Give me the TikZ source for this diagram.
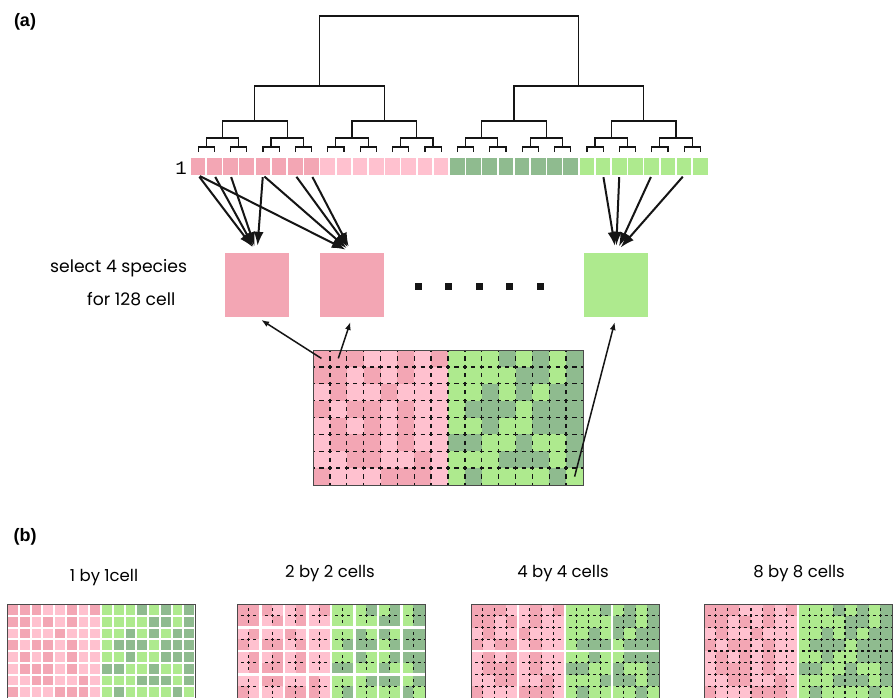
\documentclass[tikz,border=0pt]{standalone}
\usepackage{fontspec}
\setmainfont{Poppins}
\newfontfamily\boldlab{Liberation Sans}
\newfontfamily\monolab{Liberation Mono}
\usetikzlibrary{arrows.meta,calc}
\definecolor{cD}{HTML}{F3A6B4}
\definecolor{cL}{HTML}{FFC1CF}
\definecolor{cG}{HTML}{8FBB8F}
\definecolor{cE}{HTML}{AEEA8E}
\definecolor{ink}{HTML}{151515}
\definecolor{frame}{HTML}{4A4A4A}
\def\maprows{{D,D,D,L,L,D,L,D,E,E,E,G,E,G,E,G},{D,D,L,D,L,D,L,L,E,E,E,E,G,G,E,G},{L,D,L,L,D,L,L,L,E,E,G,E,G,E,G,G},{D,L,D,D,L,D,L,L,E,G,G,G,E,G,G,G},{L,D,L,D,L,D,L,L,E,E,G,E,E,G,G,G},{L,D,D,D,L,D,L,L,G,G,E,E,G,E,E,G},{L,L,D,D,L,L,D,L,E,E,E,G,G,G,E,G},{D,L,L,L,D,D,D,L,E,G,E,E,E,E,G,E}}
% cell colours: x0, y0, cell size
\newcommand\cellcolors[3]{%
  \foreach \rowlist [count=\rr from 0] in \maprows {
    \foreach \cc [count=\kk from 0] in \rowlist {
      \edef\thecol{c\cc}
      \fill[fill=\thecol] ({#1+\kk*#3},{#2+\rr*#3}) rectangle ++({#3+0.15},{#3+0.15});
    }
  }
}
% dashed internal grid: x0, y0, cell size, line width
\newcommand\dashgrid[4]{%
  \pgfmathsetmacro\dl{#3*0.25}
  \pgfmathsetmacro\dg{#3*0.25}
  \pgfmathsetmacro\dph{#3*0.125}
  \foreach \i in {1,...,15}
    \draw[ink, line width=#4, dash pattern=on \dl pt off \dg pt, dash phase=\dph pt] ({#1+\i*#3},#2) -- ++(0,{8*#3});
  \foreach \j in {1,...,7}
    \draw[ink, line width=#4, dash pattern=on \dl pt off \dg pt, dash phase=\dph pt] (#1,{#2+\j*#3}) -- ++({16*#3},0);
}
% white separators every n cells: x0, y0, cell size, n, width
\newcommand\whitesep[5]{%
  \pgfmathtruncatemacro\nv{16/#4-1}
  \pgfmathtruncatemacro\nh{8/#4-1}
  \foreach \m in {1,...,\nv}
    \draw[white, line width=#5] ({#1+\m*#4*#3},#2) -- ++(0,{8*#3});
  \ifnum\nh>0
    \foreach \m in {1,...,\nh}
      \draw[white, line width=#5] (#1,{#2+\m*#4*#3}) -- ++({16*#3},0);
  \fi
}
\tikzset{
  dendro/.style={ink, line width=1.2pt},
  leaf/.style={minimum width=14.6pt, minimum height=17pt, inner sep=0pt, draw=none},
  sbox/.style={minimum size=64pt, inner sep=0pt, draw=none},
  bigarr/.style={ink, line width=2pt, -{Latex[length=14pt,width=10pt]}, shorten <=2pt, shorten >=7pt},
  smallarr/.style={ink, line width=1.5pt, -{Latex[length=8pt,width=6pt]}, shorten >=5pt},
  dotsq/.style={fill=ink, minimum size=7pt, inner sep=0pt, draw=none},
  lab/.style={font=\fontsize{17.2}{19}\selectfont, inner sep=0pt},
  blab/.style={font=\fontsize{16.5}{19}\selectfont, inner sep=0pt},
  panel/.style={font=\boldlab\bfseries\fontsize{18}{20}\selectfont, inner sep=0pt},
  mapframe/.style={draw=frame, line width=1pt}
}
\begin{document}
\begin{tikzpicture}[x=1pt,y=-1pt]
\useasboundingbox[fill=white] (0,0) rectangle (893,697);

% panel labels
\node[panel] (pa) at (25,22) {(a)};
\node[panel] (pb) at (25,537) {(b)};

% dendrogram
\foreach \s/\h/\hc in {2/147/152, 4/138/147, 8/121/138, 16/86/121, 32/16/86} {
  \pgfmathtruncatemacro\nn{32/\s-1}
  \foreach \j in {0,...,\nn} {
    \pgfmathsetmacro\xl{190+16.2*(\j*\s+\s/4)}
    \pgfmathsetmacro\xr{190+16.2*(\j*\s+3*\s/4)}
    \draw[dendro] (\xl,\hc) -- (\xl,\h) -- (\xr,\h) -- (\xr,\hc);
  }
}

% leaves
\foreach \i in {0,...,31} {
  \pgfmathtruncatemacro\g{int(\i/8)}
  \edef\lc{\ifcase\g cD\or cL\or cG\or cE\fi}
  \node[leaf, fill=\lc] (leaf\i) at ({190+16.2*(\i+0.5)},166.5) {};
}
\node[font=\monolab\fontsize{19}{21}\selectfont, inner sep=0pt] (one) at (181,168) {1};

% selected species boxes
\node[sbox, fill=cD] (box1) at (257,285) {};
\node[sbox, fill=cD] (box2) at (352,285) {};
\node[sbox, fill=cE] (box3) at (616,285) {};
\foreach \x [count=\n] in {418,448,479,509,540}
  \node[dotsq] (dot\n) at (\x,286) {};

\node[lab, anchor=west] (t1) at (50,268) {select 4 species};
\node[lab, anchor=west] (t2) at (87,299) {for 128 cell};

% arrows from leaves to boxes
\foreach \a/\b in {0/1,1/1,2/1,4/1,0/2,4/2,6/2,7/2,25/3,26/3,28/3,30/3}
  \draw[bigarr] (leaf\a.south) -- (box\b.north);

% main map
\cellcolors{313}{350}{16.875}
\dashgrid{313}{350}{16.875}{1.3pt}
\draw[mapframe] (313,350) rectangle ++(270,135);
\coordinate (m00) at (321.4,358.4);
\coordinate (m01) at (338.3,358.4);
\coordinate (m715) at (574.6,476.6);
\draw[smallarr] (m00) -- (box1.south);
\draw[smallarr] (m01) -- (box2.south);
\draw[smallarr] (m715) -- (box3.south);

% panel (b)
\node[blab] (b1) at (104,578) {1 by 1cell};
\node[blab] (b2) at (330,574) {2 by 2 cells};
\node[blab] (b3) at (563,574) {4 by 4 cells};
\node[blab] (b4) at (799,574) {8 by 8 cells};

% 1 by 1
\cellcolors{7}{604}{11.75}
\foreach \i in {0,...,16}
  \draw[white, line width=2pt] ({7+\i*11.75},604) -- ++(0,94);
\foreach \j in {0,...,8}
  \draw[white, line width=2pt] (7,{604+\j*11.75}) -- ++(188,0);
\draw[mapframe] (7,604) rectangle ++(188,94);

% 2 by 2
\cellcolors{237}{604}{11.75}
\dashgrid{237}{604}{11.75}{1.1pt}
\whitesep{237}{604}{11.75}{2}{2.5pt}
\draw[mapframe] (237,604) rectangle ++(188,94);

% 4 by 4
\cellcolors{471}{604}{11.75}
\dashgrid{471}{604}{11.75}{1.1pt}
\whitesep{471}{604}{11.75}{4}{2.5pt}
\draw[mapframe] (471,604) rectangle ++(188,94);

% 8 by 8
\cellcolors{704}{604}{11.75}
\dashgrid{704}{604}{11.75}{1.1pt}
\whitesep{704}{604}{11.75}{8}{2.5pt}
\draw[mapframe] (704,604) rectangle ++(188,94);
\end{tikzpicture}
\end{document}
